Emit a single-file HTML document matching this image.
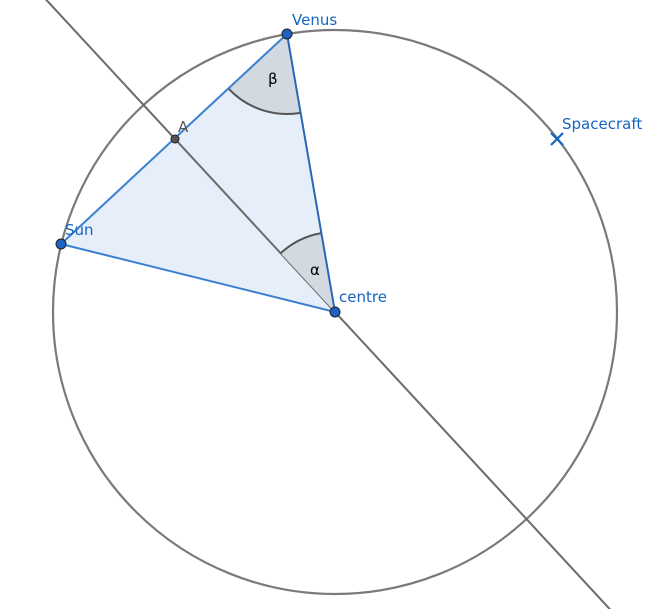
<!DOCTYPE html>
<html><head><meta charset="utf-8"><style>
html,body{margin:0;padding:0;background:#fff;width:668px;height:609px;overflow:hidden;}
svg{display:block;overflow:hidden;font-family:"DejaVu Sans","Liberation Sans",sans-serif;}
</style></head><body>
<svg id="c" width="668" height="609" viewBox="0 0 668 609"></svg>
<script>
const pointNames = ["Venus","Sun","centre","A"];
const pointX = [287, 61, 335, 175];
const pointY = [34, 244, 312, 139];
const circleRadius = [282];
const spacecraft = [557, 139];
const arcRadius = [80, 80];
const NS="http://www.w3.org/2000/svg";
const svg=document.getElementById('c');
function mk(tag,attrs,name){const e=document.createElementNS(NS,tag);for(const k in attrs)e.setAttribute(k,attrs[k]);


svg.appendChild(e);return e;}
const V=[pointX[0],pointY[0]],S=[pointX[1],pointY[1]],C=[pointX[2],pointY[2]],A=[pointX[3],pointY[3]];
mk('polygon',{points:`${V} ${S} ${C}`,fill:'#e6eff9',stroke:'none'},'triangle-fill');
mk('circle',{cx:C[0],cy:C[1],r:circleRadius[0],fill:'none',stroke:'#7a7a7a','stroke-width':2.2},'orbit-circle');
const dx=C[0]-A[0],dy=C[1]-A[1];
mk('line',{x1:A[0]-dx*1.2,y1:A[1]-dy*1.2,x2:C[0]+dx*1.8,y2:C[1]+dy*1.8,stroke:'#6a6a6a','stroke-width':2},'line-through-centre');
function sector(P,Q1,Q2,r,name){
 const a1=Math.atan2(Q1[1]-P[1],Q1[0]-P[0]),a2=Math.atan2(Q2[1]-P[1],Q2[0]-P[0]);
 const p1=[P[0]+r*Math.cos(a1),P[1]+r*Math.sin(a1)],p2=[P[0]+r*Math.cos(a2),P[1]+r*Math.sin(a2)];
 let d=a2-a1;while(d<-Math.PI)d+=2*Math.PI;while(d>Math.PI)d-=2*Math.PI;const sw=d>0?1:0;
 mk('path',{d:`M${P} L${p1} A${r} ${r} 0 0 ${sw} ${p2} Z`,fill:'#d2d9e1',stroke:'none'},name+'-fill');
 mk('path',{d:`M${p1} A${r} ${r} 0 0 ${sw} ${p2}`,fill:'none',stroke:'#555','stroke-width':2},name+'-arc');
}
sector(C,A,V,arcRadius[0],'angle-alpha');
sector(V,S,C,arcRadius[1],'angle-beta');
mk('line',{x1:V[0],y1:V[1],x2:S[0],y2:S[1],stroke:'#3b7fd0','stroke-width':2},'venus-sun-line');
mk('line',{x1:S[0],y1:S[1],x2:C[0],y2:C[1],stroke:'#3b7fd0','stroke-width':2},'sun-centre-line');
mk('line',{x1:V[0],y1:V[1],x2:C[0],y2:C[1],stroke:'#2a66b3','stroke-width':2},'venus-centre-line');
mk('path',{d:`M${spacecraft[0]-6},${spacecraft[1]-6}L${spacecraft[0]+6},${spacecraft[1]+6}M${spacecraft[0]-6},${spacecraft[1]+6}L${spacecraft[0]+6},${spacecraft[1]-6}`,stroke:'#1565c0','stroke-width':2.2},'spacecraft-marker');
const lbl=(x,y,t,col,name)=>{const e=mk('text',{x:x,y:y,fill:col,'font-size':15},name);e.textContent=t;};
lbl(spacecraft[0]+5,spacecraft[1]-10,'Spacecraft','#1565c0','spacecraft-label');
for(let i=0;i<4;i++){
 mk('circle',{cx:pointX[i],cy:pointY[i],r:i==3?4:5,fill:i==3?'#555':'#1e63c4',stroke:'#222','stroke-width':1},'point-'+pointNames[i].toLowerCase());
}
lbl(292,25,'Venus','#1565c0','venus-label');
lbl(65,235,'Sun','#1565c0','sun-label');
lbl(339,302,'centre','#1565c0','centre-label');
lbl(178,132,'A','#555','a-label');
lbl(268,84,'β','#000','beta-label');
lbl(310,275,'α','#000','alpha-label');
</script>
</body></html>
